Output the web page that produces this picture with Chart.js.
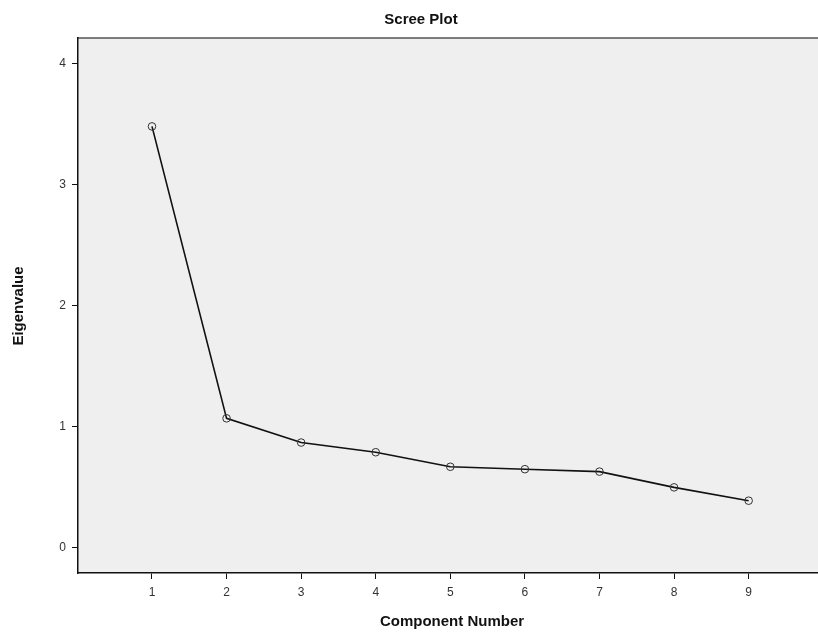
<!DOCTYPE html>
<html>
<head>
<meta charset="utf-8">
<script src="https://cdn.jsdelivr.net/npm/chart.js@4/dist/chart.umd.min.js"></script>
<style>
html,body{margin:0;padding:0;background:#fff;overflow:hidden;}
#wrap{width:818px;height:642px;position:relative;overflow:hidden;}
</style>
</head>
<body>
<div id="wrap"><canvas id="c" width="823" height="642"></canvas></div>
<script>
const components = [1, 2, 3, 4, 5, 6, 7, 8, 9];
const eigenvalues = [3.48, 1.07, 0.87, 0.79, 0.67, 0.65, 0.63, 0.50, 0.39];
const xTickValues = [1, 2, 3, 4, 5, 6, 7, 8, 9];
const yTickValues = [0, 1, 2, 3, 4];
const chartTitle = "Scree Plot";
const xTitle = "Component Number";
const yTitle = "Eigenvalue";

const points = components.map((c, i) => ({x: c, y: eigenvalues[i]}));

const decor = {
  id: 'decor',
  beforeDraw(chart) {
    const {ctx, chartArea: a} = chart;
    ctx.save();
    ctx.fillStyle = '#efefef';
    ctx.fillRect(a.left, a.top, a.right - a.left, a.bottom - a.top);
    ctx.strokeStyle = '#555';
    ctx.lineWidth = 1.5;
    ctx.beginPath();
    ctx.moveTo(a.left, a.top);
    ctx.lineTo(a.right, a.top);
    ctx.stroke();
    ctx.restore();
  },
  afterDraw(chart) {
    const {ctx} = chart;
    ctx.save();
    ctx.fillStyle = '#111';
    ctx.textAlign = 'center';
    ctx.textBaseline = 'middle';
    ctx.font = 'bold 15px Arial, "Liberation Sans", sans-serif';
    ctx.fillText(chartTitle, 421, 20);
    ctx.fillText(xTitle, 452, 622);
    ctx.translate(19, 306);
    ctx.rotate(-Math.PI / 2);
    ctx.fillText(yTitle, 0, 0);
    ctx.restore();
  }
};

new Chart(document.getElementById('c'), {
  type: 'line',
  data: {
    datasets: [{
      data: points,
      borderColor: '#111',
      borderWidth: 1.6,
      pointRadius: 3.8,
      pointBorderWidth: 1,
      pointBorderColor: '#333',
      pointBackgroundColor: 'rgba(0,0,0,0)',
      tension: 0,
      fill: false
    }]
  },
  options: {
    responsive: false,
    animation: false,
    devicePixelRatio: 1,
    layout: {padding: {top: 38, right: 0, left: 0, bottom: 0}},
    plugins: {legend: {display: false}, tooltip: {enabled: false}, title: {display: false}},
    scales: {
      x: {
        type: 'linear',
        min: 0.008,
        max: 9.93,
        afterBuildTicks: s => { s.ticks = xTickValues.map(v => ({value: v})); },
        afterFit: s => { s.height = 69; s.paddingLeft = 0; s.paddingRight = 0; },
        grid: {drawOnChartArea: false, drawTicks: true, tickLength: 6, tickColor: '#111', tickWidth: 1},
        border: {display: true, color: '#111', width: 1.5},
        ticks: {color: '#333', font: {size: 12, family: 'Arial, "Liberation Sans", sans-serif'}, padding: 6, maxRotation: 0, autoSkip: false}
      },
      y: {
        type: 'linear',
        min: -0.207,
        max: 4.21,
        afterBuildTicks: s => { s.ticks = yTickValues.map(v => ({value: v})); },
        afterFit: s => { s.width = 78; s.paddingTop = 0; s.paddingBottom = 0; },
        grid: {drawOnChartArea: false, drawTicks: true, tickLength: 6, tickColor: '#111', tickWidth: 1},
        border: {display: true, color: '#111', width: 1.5},
        ticks: {color: '#333', font: {size: 12, family: 'Arial, "Liberation Sans", sans-serif'}, padding: 6, autoSkip: false}
      }
    }
  },
  plugins: [decor]
});
</script>
</body>
</html>
